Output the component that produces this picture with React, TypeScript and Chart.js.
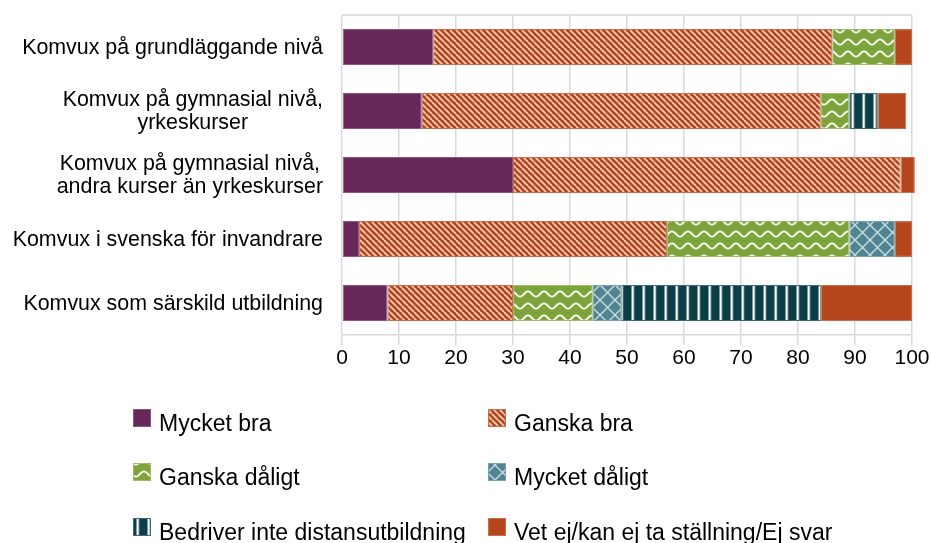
import React, { useEffect, useRef } from 'react';
import { Chart, registerables } from 'chart.js';

Chart.register(...registerables);

// ---- data ----
const categories: string[][] = [
  ['Komvux på grundläggande nivå'],
  ['Komvux på gymnasial nivå,', 'yrkeskurser'],
  ['Komvux på gymnasial nivå,', 'andra kurser än yrkeskurser'],
  ['Komvux i svenska för invandrare'],
  ['Komvux som särskild utbildning'],
];
const seriesNames = [
  'Mycket bra',
  'Ganska bra',
  'Ganska dåligt',
  'Mycket dåligt',
  'Bedriver inte distansutbildning',
  'Vet ej/kan ej ta ställning/Ej svar',
];
const mycketBra = [16, 14, 30, 3, 8];
const ganskaBra = [70, 70, 68, 54, 22];
const ganskaDaligt = [11, 5, 0, 32, 14];
const mycketDaligt = [0, 0, 0, 8, 5];
const bedriverInte = [0, 5, 0, 0, 35];
const vetEj = [3, 5, 2.5, 3, 16];
const xMin = 0;
const xMax = 100;
const xStep = 10;

// ---- styles ----
const FONT = '"Liberation Sans", Arial, Helvetica, sans-serif';
const GRID = '#d9d9d9';
const C_PURPLE = '#682859';
const C_ORANGE = '#b5461c';
const C_GREEN = '#7ea33b';
const C_TEAL = '#4f8490';
const C_DARK = '#0b3e47';

function tile(w: number, h: number, draw: (c: CanvasRenderingContext2D) => void): CanvasPattern | string {
  const cv = document.createElement('canvas');
  cv.width = w;
  cv.height = h;
  const c = cv.getContext('2d')!;
  draw(c);
  const p = c.createPattern(cv, 'repeat');
  return p || '#888';
}

function makeFills() {
  const diag = tile(6, 6, (c) => {
    c.fillStyle = C_ORANGE;
    c.fillRect(0, 0, 6, 6);
    c.strokeStyle = 'rgba(250,222,210,0.9)';
    c.lineWidth = 1.7;
    for (const o of [-6, 0, 6]) {
      c.beginPath();
      c.moveTo(o, 0);
      c.lineTo(o + 6, 6);
      c.stroke();
    }
  });
  const wave = tile(16, 12, (c) => {
    c.fillStyle = C_GREEN;
    c.fillRect(0, 0, 16, 12);
    c.strokeStyle = 'rgba(255,255,255,0.92)';
    c.lineWidth = 1.9;
    c.beginPath();
    for (let x = -1; x <= 17; x += 0.5) {
      const y = 6 - 2.6 * Math.cos((2 * Math.PI * x) / 16);
      if (x === -1) c.moveTo(x, y);
      else c.lineTo(x, y);
    }
    c.stroke();
  });
  const lattice = tile(15, 15, (c) => {
    c.fillStyle = C_TEAL;
    c.fillRect(0, 0, 15, 15);
    c.strokeStyle = 'rgba(205,228,232,0.9)';
    c.lineWidth = 1.5;
    for (const o of [-15, 0, 15]) {
      c.beginPath();
      c.moveTo(o, 0);
      c.lineTo(o + 15, 15);
      c.stroke();
      c.beginPath();
      c.moveTo(o + 15, 0);
      c.lineTo(o, 15);
      c.stroke();
    }
  });
  const vlines = tile(11, 4, (c) => {
    c.fillStyle = C_DARK;
    c.fillRect(0, 0, 11, 4);
    c.fillStyle = 'rgba(255,255,255,0.35)';
    c.fillRect(4, 0, 3.5, 4);
    c.fillStyle = 'rgba(255,255,255,0.95)';
    c.fillRect(4.8, 0, 1.8, 4);
  });
  return [C_PURPLE, diag, wave, lattice, vlines, C_ORANGE];
}

const borderColors = ['#8a5680', '#c8704e', '#9dbb68', '#7aa3ad', '#3d6a72', '#c8704e'];

export default function App() {
  const ref = useRef<HTMLCanvasElement>(null);

  useEffect(() => {
    document.body.style.margin = '0';
    const fills = makeFills();
    const values = [mycketBra, ganskaBra, ganskaDaligt, mycketDaligt, bedriverInte, vetEj];

    const custom = {
      id: 'customDraw',
      afterDraw(chart: any) {
        const ctx: CanvasRenderingContext2D = chart.ctx;
        const { left, right, top } = chart.chartArea;
        ctx.save();
        // top frame line
        ctx.strokeStyle = GRID;
        ctx.lineWidth = 1.5;
        ctx.beginPath();
        ctx.moveTo(left, top);
        ctx.lineTo(right, top);
        ctx.stroke();

        // category labels
        const ys = chart.scales.y;
        ctx.font = `21.4px ${FONT}`;
        ctx.fillStyle = '#000';
        ctx.textAlign = 'center';
        ctx.textBaseline = 'middle';
        const labelRight = left - 19;
        const lineH = 23;
        categories.forEach((lines, i) => {
          const cy = ys.getPixelForValue(i);
          const w = Math.max(...lines.map((l) => ctx.measureText(l).width));
          const cx = labelRight - w / 2;
          lines.forEach((l, j) => {
            ctx.fillText(l, cx, cy + (j - (lines.length - 1) / 2) * lineH + 1);
          });
        });

        // legend
        const colX = [133, 488];
        const rowTop = [409, 463, 518];
        const box = 18;
        ctx.font = `23px ${FONT}`;
        ctx.textAlign = 'left';
        ctx.textBaseline = 'alphabetic';
        seriesNames.forEach((name, i) => {
          const x = colX[i % 2];
          const y = rowTop[Math.floor(i / 2)];
          ctx.fillStyle = fills[i] as any;
          ctx.fillRect(x, y, box, box);
          ctx.strokeStyle = borderColors[i];
          ctx.lineWidth = 1;
          ctx.strokeRect(x + 0.5, y + 0.5, box - 1, box - 1);
          ctx.fillStyle = '#000';
          ctx.fillText(name, x + 26, y + 22);
        });
        ctx.restore();
      },
    };

    const chart = new Chart(ref.current!, {
      type: 'bar',
      data: {
        labels: categories.map((c) => c.join(' ')),
        datasets: seriesNames.map((name, i) => ({
          label: name,
          data: values[i],
          backgroundColor: fills[i] as any,
          borderColor: borderColors[i],
          borderWidth: 1,
          borderSkipped: false,
          categoryPercentage: 0.8,
          barPercentage: 0.7,
          clip: false,
        })),
      },
      options: {
        indexAxis: 'y',
        animation: false,
        responsive: true,
        maintainAspectRatio: false,
        layout: { padding: { top: 15, right: 19, bottom: 168, left: 0 } },
        plugins: {
          legend: { display: false },
          tooltip: { enabled: false },
        },
        scales: {
          x: {
            stacked: true,
            min: xMin,
            max: xMax,
            ticks: {
              stepSize: xStep,
              color: '#000',
              padding: 1,
              font: { family: FONT, size: 21 },
            },
            grid: { color: GRID, lineWidth: 1.5, tickLength: 10, drawTicks: true },
            border: { display: true, color: GRID, width: 1.5 },
            afterFit: (s: any) => {
              s.height = 40;
            },
          },
          y: {
            stacked: true,
            ticks: { display: false },
            grid: { display: false },
            border: { display: false },
            afterFit: (s: any) => {
              s.width = 342;
            },
          },
        },
      },
      plugins: [custom],
    });
    return () => chart.destroy();
  }, []);

  return (
    <div style={{ width: 931, height: 543, position: 'relative' }}>
      <canvas ref={ref} />
    </div>
  );
}
